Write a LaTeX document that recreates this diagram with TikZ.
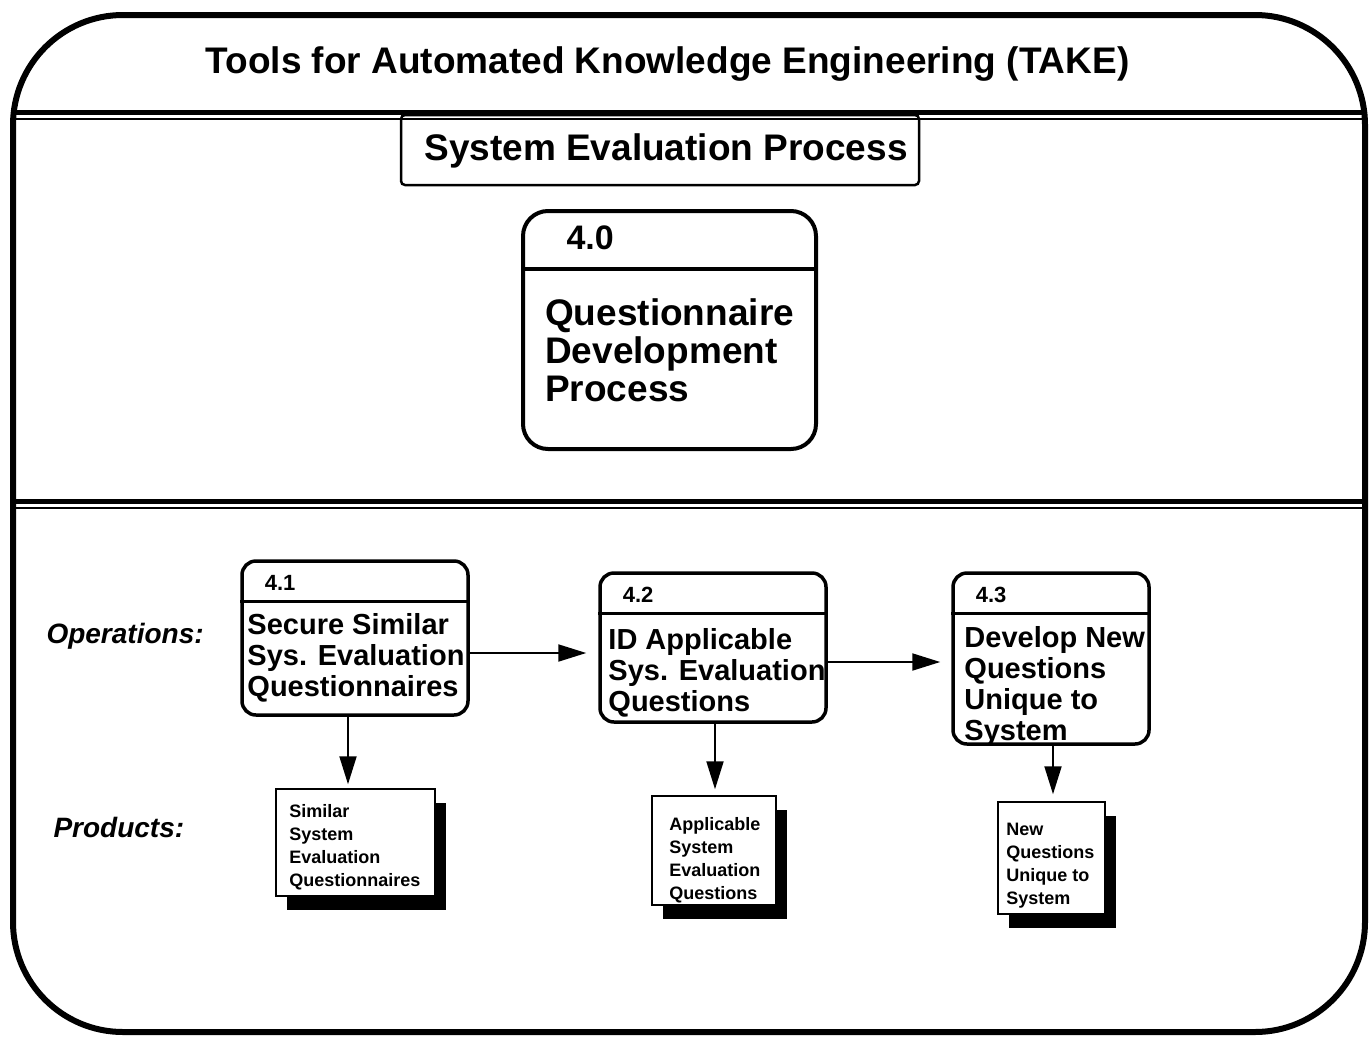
\documentclass[tikz,border=0pt]{standalone}
\usepackage{fontspec}
\setmainfont{Liberation Sans}
\usepackage{tikz}
\usetikzlibrary{arrows.meta,shapes,calc,shadows}

\begin{document}
\begin{tikzpicture}[x=1pt,y=-1pt]
            \tikzset{process/.style = {draw, line width=3.5pt, rounded corners=14pt, inner sep=0pt}}
            \tikzset{product/.style = {draw, line width=1.5pt, fill=white, inner sep=0pt,
              drop shadow={shadow xshift=11pt, shadow yshift=-14pt, fill=black, opacity=1}}}
            \tikzset{flow/.style = {line width=2pt, -{Triangle[length=28pt,width=17pt]}}}
            \useasboundingbox (0,0) rectangle (1372,1044);

            % frame
            \draw[line width=6pt, rounded corners=110pt] (13,15) rectangle (1365,1032);
            \draw[line width=5pt] (13,112) -- (1365,112);
            \draw[line width=1.5pt] (13,119) -- (1365,119);
            \draw[line width=5pt] (13,501) -- (1365,501);
            \draw[line width=1.5pt] (13,508) -- (1365,508);
            \node[anchor=base, font=\fontsize{37}{37}\selectfont\bfseries] (title) at (667.5,73)
              {Tools for Automated Knowledge Engineering (TAKE)};
            \node[draw, line width=2.5pt, rounded corners=4pt, minimum width=518pt, minimum height=70pt] (sec) at (660,150) {};
            \node[anchor=base, font=\fontsize{37}{37}\selectfont\bfseries] (sect) at (666,160) {System Evaluation Process};

            % top process
            \node[process, line width=4pt, rounded corners=25pt, minimum width=293pt, minimum height=238pt] (40) at (669.5,330) {};
            \draw[line width=4pt] ($(40.north west)+(0,60)$) -- ($(40.north east)+(0,60)$);
            \node[anchor=base west, font=\fontsize{34}{34}\selectfont\bfseries] (n40) at ($(40.north west)+(42,40)$) {4.0};
            \node[anchor=north west, align=left, inner sep=0pt, font=\fontsize{37}{38}\selectfont\bfseries] (t40)
              at ($(40.north west)+(24,89)$) {Questionnaire\\Development\\Process};

            % operations
            \node[anchor=base west, font=\fontsize{28}{28}\selectfont\bfseries\itshape] (ops) at (43,643) {Operations:};
            \foreach \x/\cx/\cy/\w/\h/\dx/\dy/\body in {1/355/638/226/154/7/54/{Secure Similar\\Sys. Evaluation\\Questionnaires},
                                                       2/713/647.5/226/149/10/57/{ID Applicable\\Sys. Evaluation\\Questions},
                                                       3/1051/658.5/196/171/13/55/{Develop New\\Questions\\Unique to\\System}}
            {
              \node[process, minimum width=\w pt, minimum height=\h pt] (4\x) at (\cx,\cy) {};
              \draw[line width=3pt] ($(4\x.north west)+(0,42)$) -- ($(4\x.north east)+(0,42)$);
              \node[anchor=base west, font=\fontsize{22}{22}\selectfont\bfseries] (n4\x) at ($(4\x.north west)+(21,31)$) {4.\x};
              \node[anchor=north west, align=left, inner sep=0pt, font=\fontsize{29}{31}\selectfont\bfseries] (t4\x)
                at ($(4\x.north west)+(\dx,\dy)$) {\body};
            }

            % products
            \node[anchor=base west, font=\fontsize{28}{28}\selectfont\bfseries\itshape] (prods) at (50,837) {Products:};
            \foreach \x/\cx/\cy/\w/\h/\dx/\dy/\body in {1/355.5/842.5/159/107/14/15.5/{Similar\\System\\Evaluation\\Questionnaires},
                                                       2/714/850.5/124/109/18/21.5/{Applicable\\System\\Evaluation\\Questions},
                                                       3/1051.5/858/107/112/9/21.5/{New\\Questions\\Unique to\\System}}
            {
              \node[product, minimum width=\w pt, minimum height=\h pt] (p\x) at (\cx,\cy) {};
              \node[anchor=north west, align=left, inner sep=0pt, font=\fontsize{18}{23}\selectfont\bfseries] (tp\x)
                at ($(p\x.north west)+(\dx,\dy)$) {\body};
            }

            % flows
            \draw[flow, shorten >=12pt] ([yshift=-15pt]41.east) -- ([yshift=-15pt]41.east -| 42.west);
            \draw[flow, shorten >=11pt] ([yshift=-14.5pt]42.east) -- ([yshift=-14.5pt]42.east -| 43.west);
            \draw[flow, shorten >=4pt] ([xshift=-7pt]41.south) -- ([xshift=-7pt]41.south |- p1.north);
            \draw[flow, shorten >=6pt] ([xshift=2pt]42.south) -- ([xshift=2pt]42.south |- p2.north);
            \draw[flow, shorten >=7pt] ([xshift=2pt]43.south) -- ([xshift=2pt]43.south |- p3.north);

\end{tikzpicture}
\end{document}
